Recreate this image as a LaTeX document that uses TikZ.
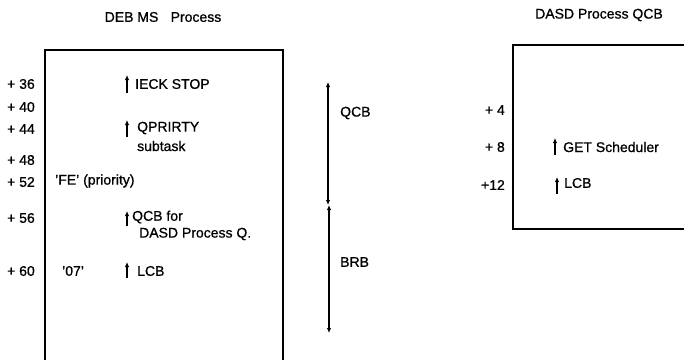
\documentclass[tikz,border=0pt]{standalone}
\usepackage{fontspec}
\setmainfont{Liberation Sans}[FakeBold=0.9]
\usetikzlibrary{arrows.meta}
\tikzset{
  lbl/.style={inner sep=0pt, anchor=west},
  off/.style={inner sep=0pt, anchor=east},
  ptr/.style={line width=1.8pt, -{Latex[length=5pt,width=4.5pt]}},
  span/.style={line width=1.5pt, {Latex[length=5pt,width=4.5pt]}-{Latex[length=5pt,width=4.5pt]}},
  frame/.style={line width=1.3pt}
}
\begin{document}
\begin{tikzpicture}[x=1pt, y=-1pt, font=\fontsize{14}{16}\selectfont]
\useasboundingbox (0,0) rectangle (684,359);
\clip (0,0) rectangle (684,359);
% Titles
\node (debtitle) at (163,17) {DEB MS\hspace{0.6em} Process};
\node (dasdtitle) at (599,15) {DASD Process QCB};
% Left block
\draw[frame] (45,362) -- (45,50) -- (283,50) -- (283,362);
\node[off] (o36) at (35,84) {+ 36};
\node[off] (o40) at (35,107) {+ 40};
\node[off] (o44) at (35,129) {+ 44};
\node[off] (o48) at (35,160) {+ 48};
\node[off] (o52) at (35,182) {+ 52};
\node[off] (o56) at (35,218) {+ 56};
\node[off] (o60) at (35,271) {+ 60};
\node[lbl] (ieck) at (135,84) {IECK STOP};
\node[lbl] (qprirty) at (137,128) {QPRIRTY};
\node[lbl] (subtask) at (137,146) {subtask};
\node[lbl] (fe) at (55,181) {'FE' (priority)};
\node[lbl] (qcbfor) at (132,217) {QCB for};
\node[lbl] (dasdq) at (139,234) {DASD Process Q.};
\node[lbl] (seven) at (62,271) {'07'};
\node[lbl] (lcbl) at (137,271) {LCB};
\draw[ptr] (127,93) -- (127,75);
\draw[ptr] (127,137) -- (127,120);
\draw[ptr] (127,226) -- (127,211);
\draw[ptr] (127,278) -- (127,262);
% Spans
\coordinate (qcbtop) at (328,82);
\coordinate (qcbbot) at (328,205);
\coordinate (brbtop) at (329,205);
\coordinate (brbbot) at (329,333);
\draw[span] (qcbtop) -- (qcbbot);
\draw[span] (brbtop) -- (brbbot);
\node[lbl] (qcb) at (340,113) {QCB};
\node[lbl] (brb) at (340,262) {BRB};
% Right block
\draw[frame] (690,45) -- (513,45) -- (513,229) -- (690,229);
\node[off] (o4) at (505,110) {+ 4};
\node[off] (o8) at (505,147) {+ 8};
\node[off] (o12) at (505,185) {+12};
\node[lbl] (getsch) at (563,147) {GET Scheduler};
\node[lbl] (lcbr) at (564,183) {LCB};
\draw[ptr] (555,155) -- (555,138);
\draw[ptr] (557,194) -- (557,177);
\end{tikzpicture}
\end{document}
